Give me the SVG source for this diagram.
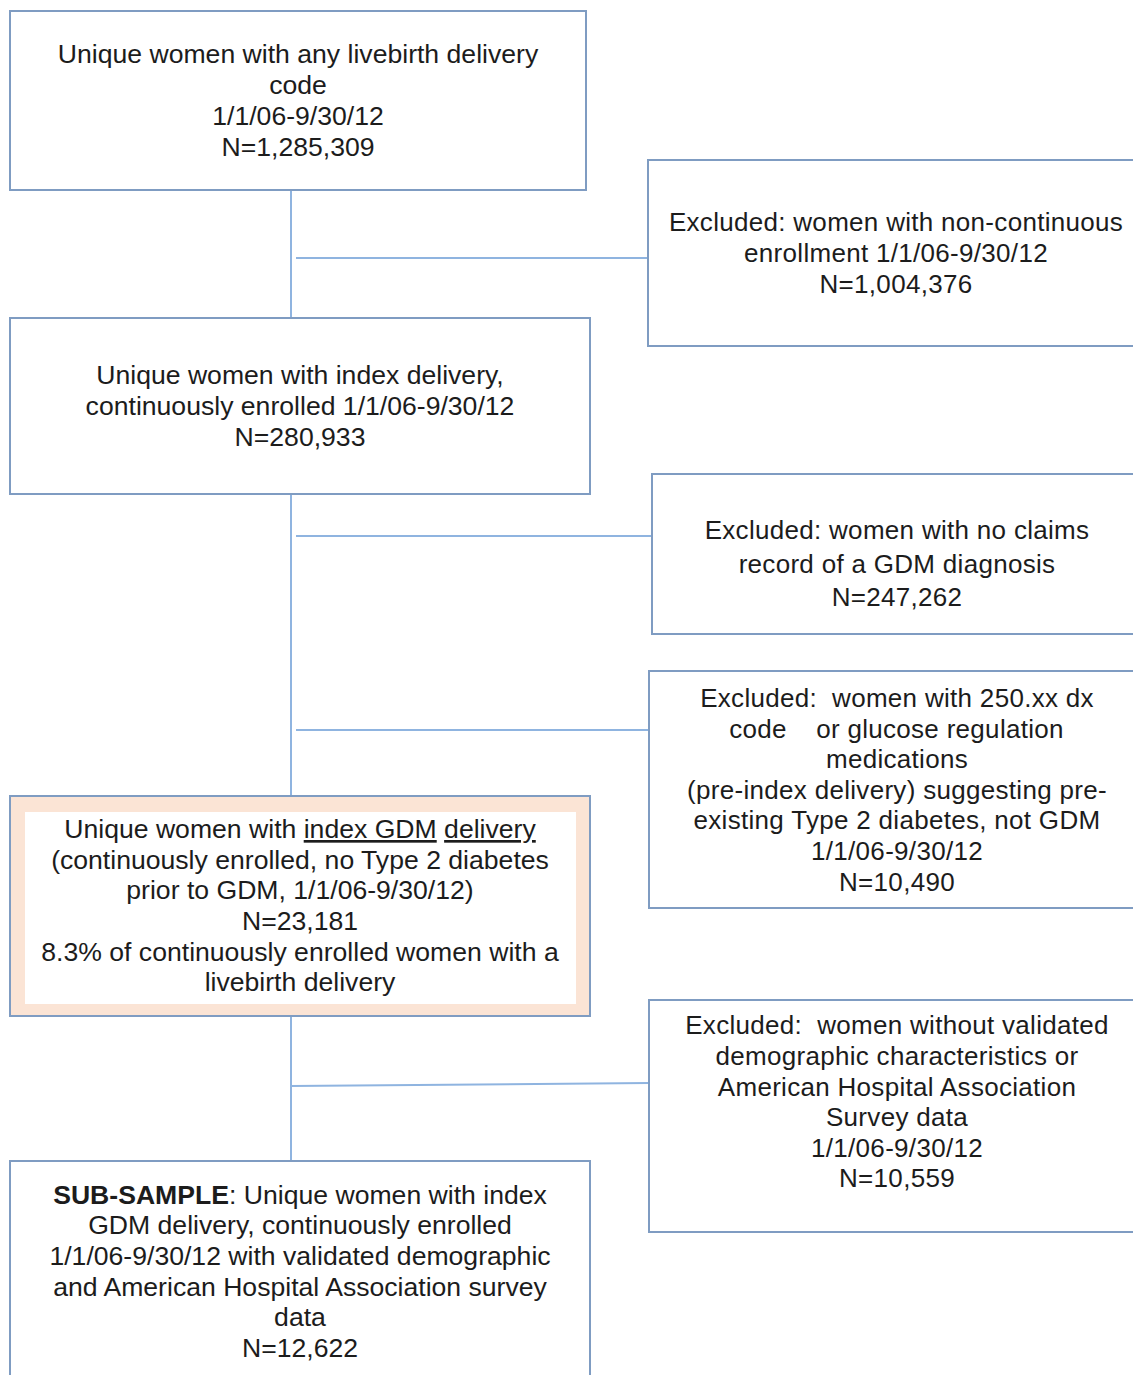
<svg xmlns="http://www.w3.org/2000/svg" width="1133" height="1375" viewBox="0 0 1133 1375">
<style>
.box{fill:#ffffff;stroke:#7f9cc2;stroke-width:2}
.gdm{fill:#fbe4d5;stroke:#7f9cc2;stroke-width:2}
.inner{fill:#ffffff;stroke:none}
.conn{stroke:#8fb4e0;stroke-width:2;fill:none}
text{font-family:"Liberation Sans",Arial,sans-serif;font-size:26px;fill:#1c1c1c;text-anchor:middle}
.l text{font-size:26.6px}
.r text{letter-spacing:0.3px}
.u{text-decoration:underline}
.b{font-weight:bold}
</style>
<rect width="1133" height="1375" fill="#ffffff"/>
<g id="connectors">
<line class="conn" x1="291" y1="190" x2="291" y2="318"/>
<line class="conn" x1="296" y1="258" x2="648" y2="258"/>
<line class="conn" x1="291" y1="494" x2="291" y2="796"/>
<line class="conn" x1="296" y1="536" x2="652" y2="536"/>
<line class="conn" x1="296" y1="730" x2="649" y2="730"/>
<line class="conn" x1="291" y1="1016" x2="291" y2="1161"/>
<line class="conn" x1="291" y1="1086" x2="649" y2="1083"/>
</g>
<g id="node-all-livebirth" class="l">
<rect class="box" x="10" y="11" width="576" height="179"/>
<text x="298" y="63">Unique women with any livebirth delivery</text>
<text x="298" y="94">code</text>
<text x="298" y="125">1/1/06-9/30/12</text>
<text x="298" y="156">N=1,285,309</text>
</g>
<g id="node-excl-noncontinuous" class="r">
<rect class="box" x="648" y="160" width="500" height="186"/>
<text x="896" y="231">Excluded: women with non-continuous</text>
<text x="896" y="262">enrollment 1/1/06-9/30/12</text>
<text x="896" y="293">N=1,004,376</text>
</g>
<g id="node-index-delivery" class="l">
<rect class="box" x="10" y="318" width="580" height="176"/>
<text x="300" y="384">Unique women with index delivery,</text>
<text x="300" y="415">continuously enrolled 1/1/06-9/30/12</text>
<text x="300" y="446">N=280,933</text>
</g>
<g id="node-excl-nogdm" class="r">
<rect class="box" x="652" y="474" width="500" height="160"/>
<text x="897" y="539">Excluded: women with no claims</text>
<text x="897" y="573">record of a GDM diagnosis</text>
<text x="897" y="606">N=247,262</text>
</g>
<g id="node-excl-type2" class="r">
<rect class="box" x="649" y="671" width="500" height="237"/>
<text x="897" y="707" xml:space="preserve">Excluded:  women with 250.xx dx</text>
<text y="738"><tspan x="758">code</tspan><tspan x="940">or glucose regulation</tspan></text>
<text x="897" y="768">medications</text>
<text x="897" y="799">(pre-index delivery) suggesting pre-</text>
<text x="897" y="829">existing Type 2 diabetes, not GDM</text>
<text x="897" y="860">1/1/06-9/30/12</text>
<text x="897" y="891">N=10,490</text>
</g>
<g id="node-index-gdm" class="l">
<rect class="gdm" x="10" y="796" width="580" height="220"/>
<rect class="inner" x="25" y="812" width="551" height="192"/>
<text x="300" y="838">Unique women with <tspan class="u">index GDM</tspan> <tspan class="u">delivery</tspan></text>
<text x="300" y="869">(continuously enrolled, no Type 2 diabetes</text>
<text x="300" y="899">prior to GDM, 1/1/06-9/30/12)</text>
<text x="300" y="930">N=23,181</text>
<text x="300" y="961">8.3% of continuously enrolled women with a</text>
<text x="300" y="991">livebirth delivery</text>
</g>
<g id="node-excl-validation" class="r">
<rect class="box" x="649" y="1000" width="500" height="232"/>
<text x="897" y="1034" xml:space="preserve">Excluded:  women without validated</text>
<text x="897" y="1065">demographic characteristics or</text>
<text x="897" y="1096">American Hospital Association</text>
<text x="897" y="1126">Survey data</text>
<text x="897" y="1157">1/1/06-9/30/12</text>
<text x="897" y="1187">N=10,559</text>
</g>
<g id="node-subsample" class="l">
<rect class="box" x="10" y="1161" width="580" height="240"/>
<text x="300" y="1204"><tspan class="b">SUB-SAMPLE</tspan>: Unique women with index</text>
<text x="300" y="1234">GDM delivery, continuously enrolled</text>
<text x="300" y="1265">1/1/06-9/30/12 with validated demographic</text>
<text x="300" y="1296">and American Hospital Association survey</text>
<text x="300" y="1326">data</text>
<text x="300" y="1357">N=12,622</text>
</g>
</svg>
